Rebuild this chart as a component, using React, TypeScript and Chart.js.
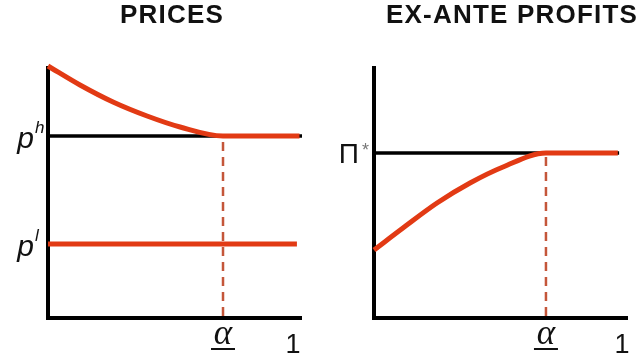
import React, { useEffect, useRef } from "react";
import { Chart, registerables } from "chart.js";

Chart.register(...registerables);

// ---- data ----
const panelTitles = ["PRICES", "EX-ANTE PROFITS"];

// Left panel: prices
const pricesCurveX = [0, 0.126, 0.256, 0.39, 0.52, 0.689, 0.99];
const pricesCurveY = [1.0, 0.924, 0.856, 0.8, 0.756, 0.72, 0.72];
const priceHigh = 0.72;
const priceLow = 0.288;
const priceLowEnd = 0.98;
const alphaPrices = 0.689;

// Right panel: ex-ante profits
const profitsCurveX = [0, 0.114, 0.248, 0.378, 0.508, 0.677, 0.96];
const profitsCurveY = [0.264, 0.352, 0.452, 0.532, 0.596, 0.652, 0.652];
const profitStar = 0.652;
const profitStarEnd = 0.965;
const alphaProfits = 0.677;

// x tick labels
const xLabelOne = "1";
const oneValuePrices = 0.965;
const oneValueProfits = 0.976;

const RED = "#e23a14";
const DASH = "#c4563a";
const BLACK = "#000000";

type YLabel = { base: string; sup: string; value: number; kind: "p" | "pi" };

type PanelCfg = {
  title: string;
  titleX: number;
  padding: { left: number; right: number; top: number; bottom: number };
  datasets: any[];
  yLabels: YLabel[];
  alpha: number;
  oneValue: number;
};

const pts = (xs: number[], ys: number[]) => xs.map((x, i) => ({ x, y: ys[i] }));

const labelPlugin = (cfg: PanelCfg) => ({
  id: "panelDecor",
  beforeDatasetsDraw(chart: any) {
    const { ctx, chartArea } = chart;
    ctx.save();
    ctx.strokeStyle = BLACK;
    ctx.lineWidth = 4;
    ctx.lineCap = "butt";
    ctx.beginPath();
    ctx.moveTo(chartArea.left, chartArea.top);
    ctx.lineTo(chartArea.left, chartArea.bottom + 2);
    ctx.lineTo(chartArea.right, chartArea.bottom + 2);
    ctx.stroke();
    ctx.restore();
  },
  afterDraw(chart: any) {
    const { ctx, chartArea, scales } = chart;
    const xs = scales.x;
    const ys = scales.y;
    ctx.save();
    // title
    ctx.fillStyle = "#111";
    ctx.font = "bold 26px 'Liberation Sans', Arial, sans-serif";
    (ctx as any).letterSpacing = "1.2px";
    ctx.textAlign = "center";
    ctx.textBaseline = "alphabetic";
    ctx.fillText(cfg.title, cfg.titleX, 23);
    (ctx as any).letterSpacing = "0px";

    // y labels
    for (const l of cfg.yLabels) {
      const py = ys.getPixelForValue(l.value);
      if (l.kind === "p") {
        ctx.fillStyle = "#111";
        ctx.font = "italic 30px 'Liberation Sans', Arial, sans-serif";
        ctx.textAlign = "right";
        ctx.fillText(l.base, chartArea.left - 14, py + 12);
        ctx.font = "italic 17px 'Liberation Sans', Arial, sans-serif";
        ctx.textAlign = "left";
        ctx.fillText(l.sup, chartArea.left - 13, py - 3);
      } else {
        ctx.fillStyle = "#111";
        ctx.font = "28px 'Liberation Sans', Arial, sans-serif";
        ctx.textAlign = "right";
        ctx.fillText(l.base, chartArea.left - 15, py + 10);
        ctx.fillStyle = "#777";
        ctx.font = "18px 'Liberation Sans', Arial, sans-serif";
        ctx.textAlign = "left";
        ctx.fillText(l.sup, chartArea.left - 12, py + 3);
      }
    }

    // alpha underlined
    const ax = xs.getPixelForValue(cfg.alpha);
    ctx.fillStyle = "#111";
    ctx.font = "italic 35px 'Liberation Serif', 'Times New Roman', serif";
    ctx.textAlign = "center";
    ctx.fillText("\u03b1", ax, 344);
    ctx.strokeStyle = "#111";
    ctx.lineWidth = 2;
    ctx.beginPath();
    ctx.moveTo(ax - 12, 349);
    ctx.lineTo(ax + 12, 349);
    ctx.stroke();

    // "1"
    const ox = xs.getPixelForValue(cfg.oneValue);
    ctx.font = "27px 'Liberation Sans', Arial, sans-serif";
    ctx.fillText(xLabelOne, ox, 353);
    ctx.restore();
  },
});

function Panel({ cfg }: { cfg: PanelCfg }) {
  const ref = useRef<HTMLCanvasElement | null>(null);
  useEffect(() => {
    if (!ref.current) return;
    const chart = new Chart(ref.current, {
      type: "line",
      data: { datasets: cfg.datasets },
      options: {
        responsive: false,
        animation: false,
        events: [],
        layout: { padding: cfg.padding },
        plugins: { legend: { display: false }, tooltip: { enabled: false }, title: { display: false } },
        scales: {
          x: { type: "linear", min: 0, max: 1, display: false },
          y: { type: "linear", min: 0, max: 1, display: false },
        },
        elements: { point: { radius: 0 } },
      },
      plugins: [labelPlugin(cfg)],
    } as any);
    return () => chart.destroy();
  }, [cfg]);
  return <canvas ref={ref} width={321} height={362} style={{ display: "block" }} />;
}

const leftCfg: PanelCfg = {
  title: panelTitles[0],
  titleX: 172,
  padding: { left: 48, right: 19, top: 66, bottom: 46 },
  alpha: alphaPrices,
  oneValue: oneValuePrices,
  yLabels: [
    { base: "p", sup: "h", value: priceHigh, kind: "p" },
    { base: "p", sup: "l", value: priceLow, kind: "p" },
  ],
  datasets: [
    { data: pts([0, 1], [priceHigh, priceHigh]), borderColor: BLACK, borderWidth: 3.5, order: 3, clip: false },
    {
      data: pts([alphaPrices, alphaPrices], [0, priceHigh]),
      borderColor: DASH, borderWidth: 2.5, borderDash: [9, 6], order: 2, clip: false,
    },
    {
      data: pts(pricesCurveX, pricesCurveY),
      borderColor: RED, borderWidth: 5, cubicInterpolationMode: "monotone", order: 1, clip: false,
    },
    { data: pts([0, priceLowEnd], [priceLow, priceLow]), borderColor: RED, borderWidth: 5, order: 1, clip: false },
  ],
};

const rightCfg: PanelCfg = {
  title: panelTitles[1],
  titleX: 191,
  padding: { left: 53, right: 14, top: 66, bottom: 46 },
  alpha: alphaProfits,
  oneValue: oneValueProfits,
  yLabels: [{ base: "\u03a0", sup: "*", value: profitStar, kind: "pi" }],
  datasets: [
    { data: pts([0, profitStarEnd], [profitStar, profitStar]), borderColor: BLACK, borderWidth: 3.5, order: 3, clip: false },
    {
      data: pts([alphaProfits, alphaProfits], [0, profitStar]),
      borderColor: DASH, borderWidth: 2.5, borderDash: [9, 6], order: 2, clip: false,
    },
    {
      data: pts(profitsCurveX, profitsCurveY),
      borderColor: RED, borderWidth: 5, cubicInterpolationMode: "monotone", order: 1, clip: false,
    },
  ],
};

export default function App() {
  useEffect(() => {
    document.body.style.margin = "0";
    document.body.style.background = "#ffffff";
  }, []);
  return (
    <div style={{ position: "relative", width: 642, height: 362, background: "#fff" }}>
      <div style={{ position: "absolute", left: 0, top: 0 }}>
        <Panel cfg={leftCfg} />
      </div>
      <div style={{ position: "absolute", left: 321, top: 0 }}>
        <Panel cfg={rightCfg} />
      </div>
    </div>
  );
}
